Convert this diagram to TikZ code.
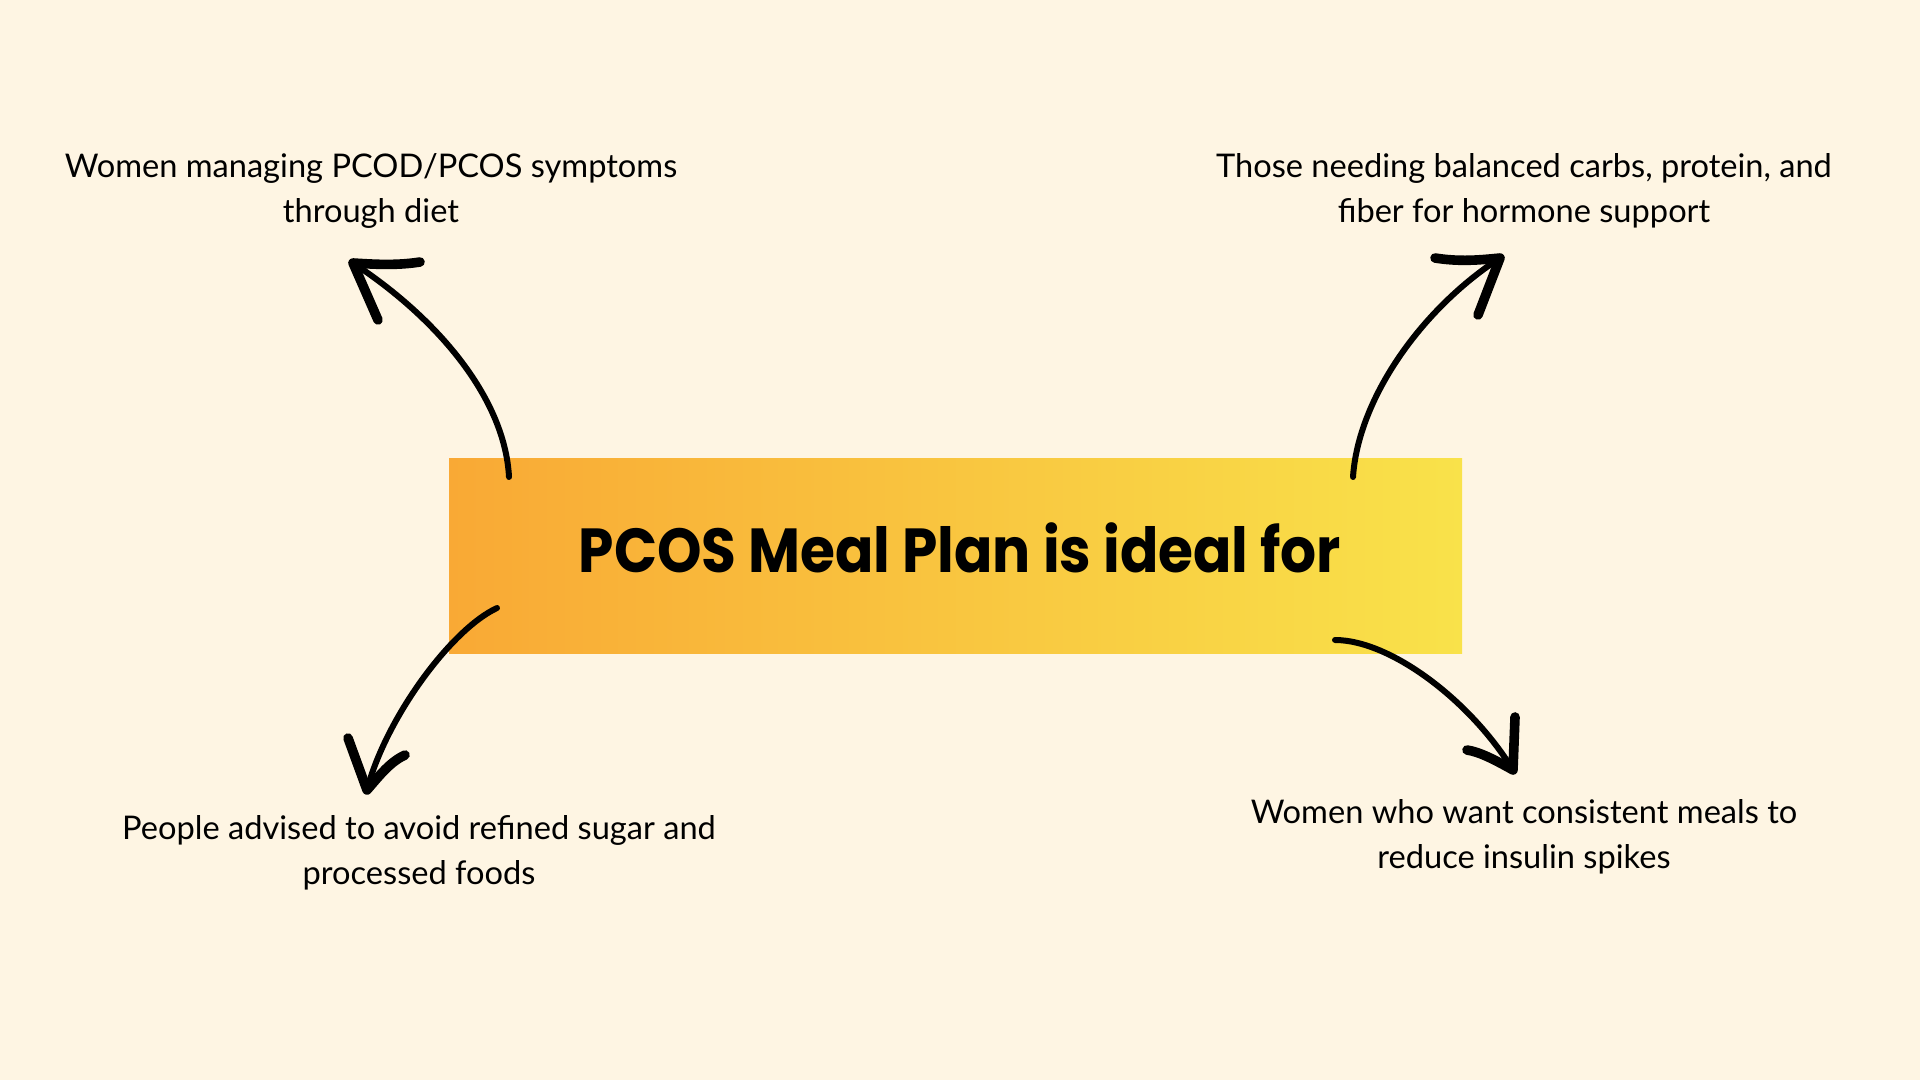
\documentclass[tikz,border=0pt]{standalone}
\usepackage{fontspec}
\setmainfont{Lato}
\newfontfamily\titlefont[FakeStretch=0.91]{Poppins}
\definecolor{bgcream}{HTML}{FEF5E3}
\definecolor{leftorange}{HTML}{F9A935}
\definecolor{rightyellow}{HTML}{F9E24A}
\begin{document}
\begin{tikzpicture}[x=0.5pt,y=-0.5pt,
  lbl/.style={align=center,font=\fontsize{16.3}{22.5}\selectfont,text=black},
  curvy/.style={line width=3pt,line cap=round,black},
  barb/.style={line width=4.8pt,line cap=round,line join=round,black}]
\fill[bgcream] (0,0) rectangle (1920,1080);
\useasboundingbox (0,0) rectangle (1920,1080);
\shade[left color=leftorange,right color=rightyellow] (449,458) rectangle (1462,653);
\node (box) at (955.5,555.5) [minimum width=1013*0.5pt, minimum height=195*0.5pt, inner sep=0pt] {};
\node (title) at (960,548) {\titlefont\bfseries\fontsize{31.1}{36}\selectfont PCOS Meal Plan is ideal for};

\node[lbl] (tl) at (371,191) {Women managing PCOD/PCOS symptoms\\through diet};
\node[lbl] (tr) at (1524,191) {Those needing balanced carbs, protein, and\\fiber for hormone support};
\node[lbl] (bl) at (419,853) {People advised to avoid refined sugar and\\processed foods};
\node[lbl] (br) at (1524,837) {Women who want consistent meals to\\reduce insulin spikes};

\coordinate (tlA) at (509,477); \coordinate (tlB) at (353,263);
\coordinate (trA) at (1353,477); \coordinate (trB) at (1500,258);
\coordinate (blA) at (497,608); \coordinate (blB) at (367,790);
\coordinate (brA) at (1335,640); \coordinate (brB) at (1513,770);

\draw[curvy] (tlA) .. controls (505,400) and (440,320) .. (tlB);
\draw[barb] (420,262) .. controls (395,266) and (370,264) .. (tlB) -- (378,320);
\draw[curvy] (trA) .. controls (1358,400) and (1420,310) .. (trB);
\draw[barb] (1435,258) .. controls (1460,262) and (1480,260) .. (trB) -- (1478,315);
\draw[curvy] (blA) .. controls (450,630) and (385,720) .. (blB);
\draw[barb] (348,738) -- (blB) .. controls (380,775) and (390,762) .. (405,755);
\draw[curvy] (brA) .. controls (1390,640) and (1470,700) .. (brB);
\draw[barb] (1515,717) -- (brB) .. controls (1495,760) and (1480,752) .. (1467,750);
\end{tikzpicture}
\end{document}
